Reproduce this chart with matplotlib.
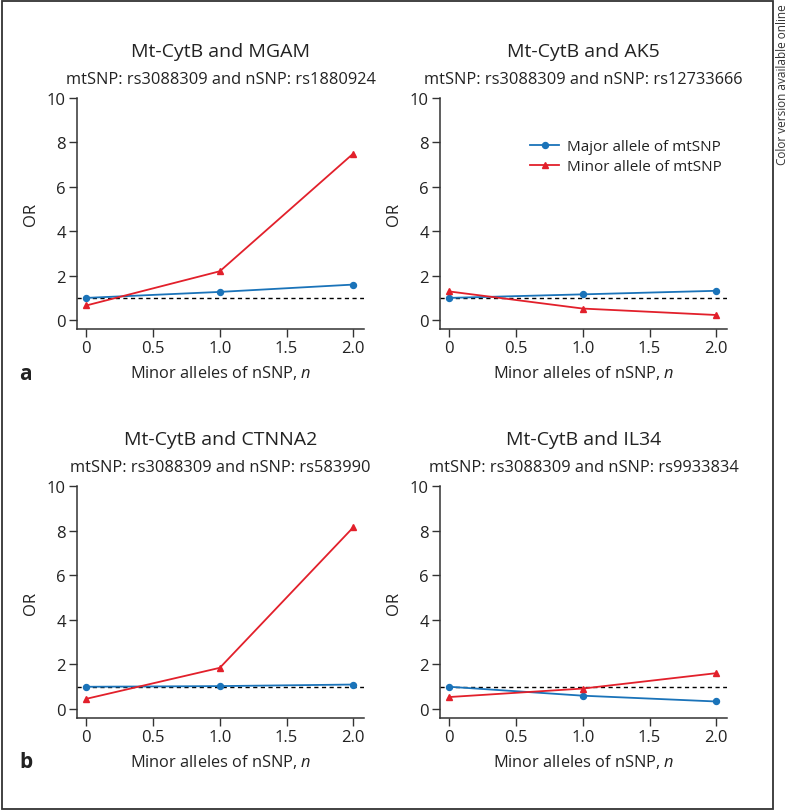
import matplotlib
matplotlib.use("Agg")
import matplotlib.pyplot as plt
from matplotlib.patches import Rectangle

plt.rcParams['font.family'] = ['Open Sans', 'DejaVu Sans']
plt.rcParams['mathtext.fontset'] = 'custom'
plt.rcParams['mathtext.rm'] = 'Open Sans'
plt.rcParams['mathtext.it'] = 'Open Sans:italic'

# minor alleles of nSNP
n_alleles = [0, 1, 2]

gene_titles = ["Mt-CytB and MGAM", "Mt-CytB and AK5",
               "Mt-CytB and CTNNA2", "Mt-CytB and IL34"]
snp_titles = ["mtSNP: rs3088309 and nSNP: rs1880924",
              "mtSNP: rs3088309 and nSNP: rs12733666",
              "mtSNP: rs3088309 and nSNP: rs583990",
              "mtSNP: rs3088309 and nSNP: rs9933834"]

# OR values
major_or = [[1.0, 1.27, 1.6],
            [1.0, 1.16, 1.32],
            [1.0, 1.03, 1.1],
            [1.0, 0.6, 0.34]]
minor_or = [[0.66, 2.2, 7.5],
            [1.29, 0.52, 0.23],
            [0.46, 1.85, 8.15],
            [0.54, 0.92, 1.61]]

x_ticks = [0, 0.5, 1.0, 1.5, 2.0]
x_ticklabels = ["0", "0.5", "1.0", "1.5", "2.0"]
y_ticks = [0, 2, 4, 6, 8, 10]

blue = '#1a73b9'
red = '#e2202b'
text_col = '#222222'

W, H = 788, 812
fig = plt.figure(figsize=(W / 100, H / 100), dpi=100)

# axes boxes in pixels: left, top, right, bottom
boxes = [(77, 99, 364, 330), (440, 99, 727, 330),
         (77, 487, 364, 719), (440, 487, 727, 719)]

for i in range(4):
    l, t, r, b = boxes[i]
    ax = fig.add_axes([l / W, 1 - b / H, (r - l) / W, (b - t) / H])
    ax.axhline(1.0, color='black', lw=1.0, ls=(0, (3, 2.5)), zorder=1)
    ax.plot(n_alleles, major_or[i], color=blue, lw=1.3, marker='o', ms=4.3,
            label='Major allele of mtSNP', zorder=3)
    ax.plot(n_alleles, minor_or[i], color=red, lw=1.3, marker='^', ms=5,
            label='Minor allele of mtSNP', zorder=3)
    ax.set_xlim(-0.07, 2.08)
    ax.set_ylim(-0.4, 10)
    ax.set_xticks(x_ticks)
    ax.set_xticklabels(x_ticklabels)
    ax.set_yticks(y_ticks)
    ax.spines['top'].set_visible(False)
    ax.spines['right'].set_visible(False)
    for s in ['left', 'bottom']:
        ax.spines[s].set_color('#333333')
        ax.spines[s].set_linewidth(1.1)
    ax.tick_params(direction='out', length=6, width=1.0, color='#333333',
                   labelsize=12, labelcolor=text_col, pad=2)
    ax.set_ylabel('OR', fontsize=12, color=text_col, labelpad=6)
    ax.set_xlabel('Minor alleles of nSNP, $n$', fontsize=11.8, color=text_col, labelpad=5)
    ax.text(0.5, 1.203, gene_titles[i], transform=ax.transAxes, ha='center',
            va='center', fontsize=14, color=text_col)
    ax.text(0.5, 1.082, snp_titles[i], transform=ax.transAxes, ha='center',
            va='center', fontsize=11.8, color=text_col)
    if i == 1:
        ax.legend(loc='upper right', bbox_to_anchor=(1.03, 0.88), frameon=False,
                  fontsize=11, handlelength=1.9, handletextpad=0.5,
                  labelspacing=0.3, labelcolor=text_col)

fig.text(25 / W, 1 - 375 / H, 'a', fontsize=15, fontweight='bold',
         ha='center', va='center', color=text_col)
fig.text(26 / W, 1 - 763 / H, 'b', fontsize=15, fontweight='bold',
         ha='center', va='center', color=text_col)
fig.text(783 / W, 1 - 4 / H, 'Color version available online', rotation=90,
         fontsize=8.5, ha='center', va='top', color='#333333')

# outer frame
fig.add_artist(Rectangle((1.5 / W, 1 - 810 / H), 771 / W, 808.5 / H,
                         transform=fig.transFigure, fill=False,
                         edgecolor='#333333', lw=1.3))

fig.savefig('out.png', dpi=100)
